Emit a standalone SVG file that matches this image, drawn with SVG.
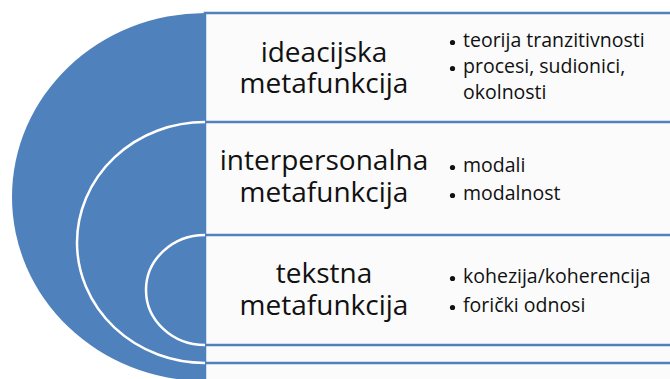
<svg xmlns="http://www.w3.org/2000/svg" width="670" height="379" viewBox="0 0 670 379">
  <style>
    .panel { fill: #fbfbfb; stroke: #4f81bd; stroke-width: 2.5; }
    .disk { fill: #4f81bd; stroke: none; }
    .rim { fill: none; stroke: #ffffff; stroke-width: 2.5; }
    .title { font-family: "Open Sans", "Noto Sans", sans-serif; font-size: 28px; fill: #111111; text-anchor: middle; }
    .item { font-family: "Open Sans", "Noto Sans", sans-serif; font-size: 19.5px; fill: #111111; }
    .dot { fill: #111111; }
  </style>
  <rect width="670" height="379" fill="#ffffff"/>

  <!-- outer level: ideational -->
  <g id="ideacijska">
    <rect class="panel" x="205" y="13" width="490" height="380"/>
    <path class="disk" d="M205 13 A193 184 0 0 0 205 381 Z"/>
    <text class="title" x="324" y="62"><tspan x="324" y="62">ideacijska</tspan><tspan x="324" y="93">metafunkcija</tspan></text>
    <circle class="dot" cx="452.5" cy="42.5" r="2.6"/>
    <text class="item" x="463" y="47">teorija tranzitivnosti</text>
    <circle class="dot" cx="452.5" cy="68.5" r="2.6"/>
    <text class="item" x="463" y="73"><tspan x="463" y="73">procesi, sudionici,</tspan><tspan x="463" y="99">okolnosti</tspan></text>
  </g>

  <!-- middle level: interpersonal -->
  <g id="interpersonalna">
    <rect class="panel" x="205" y="122" width="490" height="241"/>
    <path class="disk" d="M205 122 A128 120.5 0 0 0 205 363 Z"/>
    <path class="rim" d="M205 122 A128 120.5 0 0 0 205 363"/>
    <text class="title" x="324" y="170"><tspan x="324" y="170">interpersonalna</tspan><tspan x="324" y="202">metafunkcija</tspan></text>
    <circle class="dot" cx="452.5" cy="167.5" r="2.6"/>
    <text class="item" x="463" y="172">modali</text>
    <circle class="dot" cx="452.5" cy="195.5" r="2.6"/>
    <text class="item" x="463" y="200">modalnost</text>
  </g>

  <!-- inner level: textual -->
  <g id="tekstna">
    <rect class="panel" x="205" y="235" width="490" height="110"/>
    <path class="disk" d="M205 235 A59 55 0 0 0 205 345 Z"/>
    <path class="rim" d="M205 235 A59 55 0 0 0 205 345"/>
    <text class="title" x="324" y="283"><tspan x="324" y="283">tekstna</tspan><tspan x="324" y="315">metafunkcija</tspan></text>
    <circle class="dot" cx="452.5" cy="278.5" r="2.6"/>
    <text class="item" x="463" y="283">kohezija/koherencija</text>
    <circle class="dot" cx="452.5" cy="307.5" r="2.6"/>
    <text class="item" x="463" y="312">forički odnosi</text>
  </g>

  <g id="connectors"></g>
</svg>
